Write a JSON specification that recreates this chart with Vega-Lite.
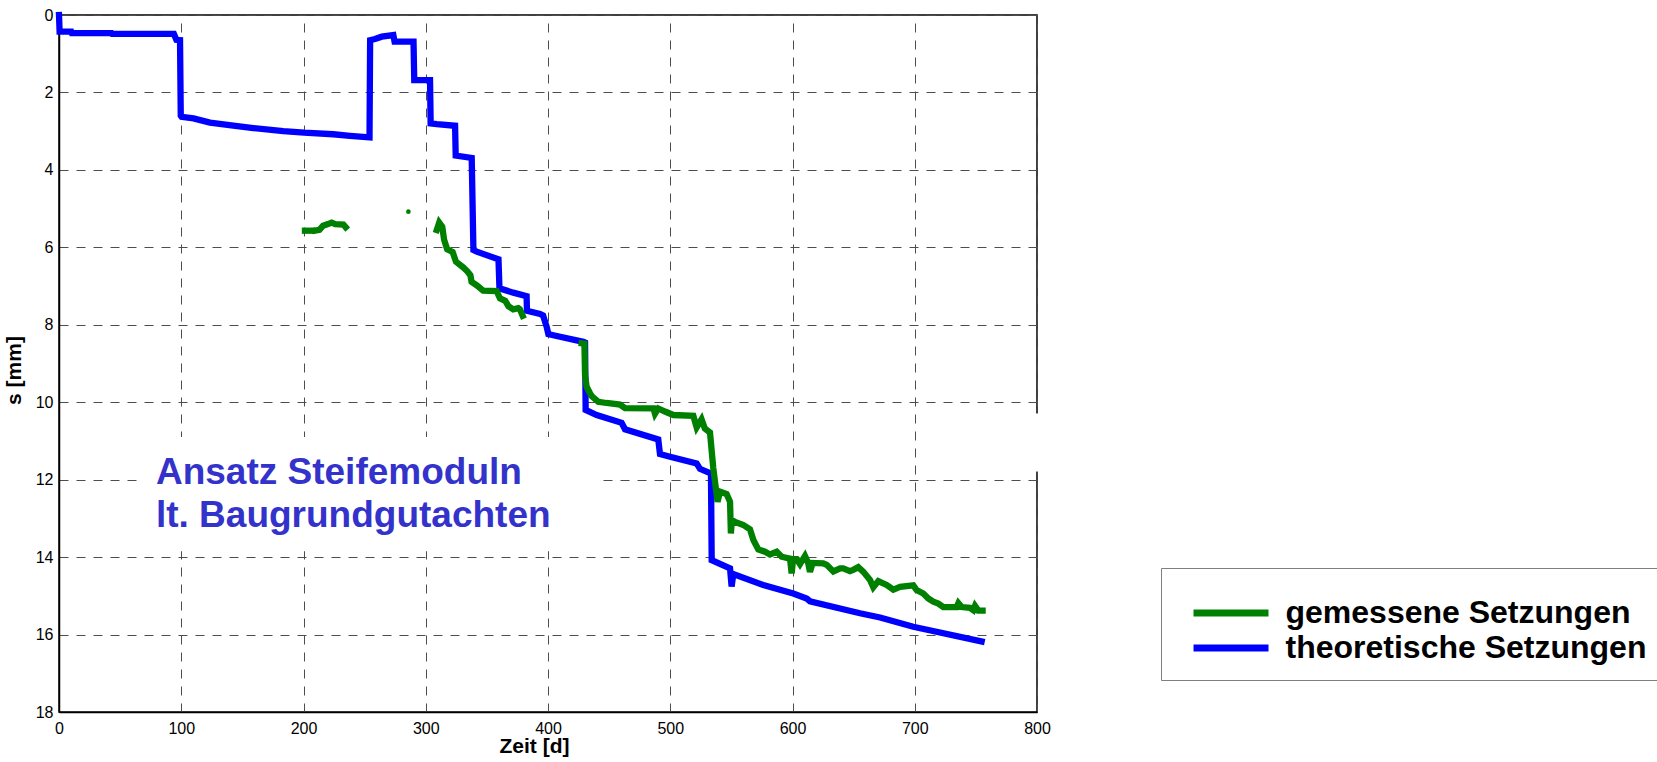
{
  "$schema": "https://vega.github.io/schema/vega-lite/v6.json",
  "autosize": {"type": "none"},
  "padding": {"left": 59, "top": 15, "right": 620, "bottom": 50},
  "width": 978,
  "height": 697,
  "background": "white",
  "config": {
    "font": "Liberation Sans",
    "view": {"stroke": "black", "strokeWidth": 1.5},
    "axis": {
      "labelFont": "Liberation Sans",
      "labelFontSize": 16,
      "labelColor": "black",
      "labelFlush": false,
      "titleFont": "Liberation Sans",
      "titleFontSize": 21,
      "titleFontWeight": "bold",
      "titleColor": "black",
      "domainColor": "black",
      "domainWidth": 1.5,
      "ticks": false,
      "tickSize": 0,
      "grid": true,
      "gridColor": "#4d4d4d",
      "gridDash": [9, 8],
      "gridWidth": 1,
      "gridOpacity": 1
    }
  },
  "layer": [
    {
      "data": {
        "values": [
          {"Reihe": "theoretische Setzungen", "Abschnitt": "t1", "t": 0, "s": 0},
          {"Reihe": "theoretische Setzungen", "Abschnitt": "t1", "t": 0.5, "s": 0.43},
          {"Reihe": "theoretische Setzungen", "Abschnitt": "t1", "t": 10, "s": 0.43},
          {"Reihe": "theoretische Setzungen", "Abschnitt": "t1", "t": 10.5, "s": 0.47},
          {"Reihe": "theoretische Setzungen", "Abschnitt": "t1", "t": 43, "s": 0.47},
          {"Reihe": "theoretische Setzungen", "Abschnitt": "t1", "t": 43.5, "s": 0.49},
          {"Reihe": "theoretische Setzungen", "Abschnitt": "t1", "t": 94, "s": 0.49},
          {"Reihe": "theoretische Setzungen", "Abschnitt": "t1", "t": 96, "s": 0.64},
          {"Reihe": "theoretische Setzungen", "Abschnitt": "t1", "t": 99, "s": 0.65},
          {"Reihe": "theoretische Setzungen", "Abschnitt": "t1", "t": 99.6, "s": 2.6},
          {"Reihe": "theoretische Setzungen", "Abschnitt": "t1", "t": 100.3, "s": 2.63},
          {"Reihe": "theoretische Setzungen", "Abschnitt": "t1", "t": 110, "s": 2.67},
          {"Reihe": "theoretische Setzungen", "Abschnitt": "t1", "t": 123.5, "s": 2.78},
          {"Reihe": "theoretische Setzungen", "Abschnitt": "t1", "t": 142.6, "s": 2.86},
          {"Reihe": "theoretische Setzungen", "Abschnitt": "t1", "t": 159, "s": 2.92},
          {"Reihe": "theoretische Setzungen", "Abschnitt": "t1", "t": 183.5, "s": 3.0},
          {"Reihe": "theoretische Setzungen", "Abschnitt": "t1", "t": 200.4, "s": 3.04},
          {"Reihe": "theoretische Setzungen", "Abschnitt": "t1", "t": 224.4, "s": 3.08},
          {"Reihe": "theoretische Setzungen", "Abschnitt": "t1", "t": 238, "s": 3.12},
          {"Reihe": "theoretische Setzungen", "Abschnitt": "t1", "t": 254, "s": 3.16},
          {"Reihe": "theoretische Setzungen", "Abschnitt": "t1", "t": 254.5, "s": 0.65},
          {"Reihe": "theoretische Setzungen", "Abschnitt": "t1", "t": 258.5, "s": 0.62},
          {"Reihe": "theoretische Setzungen", "Abschnitt": "t1", "t": 264, "s": 0.56},
          {"Reihe": "theoretische Setzungen", "Abschnitt": "t1", "t": 273.5, "s": 0.52},
          {"Reihe": "theoretische Setzungen", "Abschnitt": "t1", "t": 274.5, "s": 0.69},
          {"Reihe": "theoretische Setzungen", "Abschnitt": "t1", "t": 290, "s": 0.69},
          {"Reihe": "theoretische Setzungen", "Abschnitt": "t1", "t": 290.6, "s": 1.68},
          {"Reihe": "theoretische Setzungen", "Abschnitt": "t1", "t": 303.5, "s": 1.68},
          {"Reihe": "theoretische Setzungen", "Abschnitt": "t1", "t": 304, "s": 2.8},
          {"Reihe": "theoretische Setzungen", "Abschnitt": "t1", "t": 309, "s": 2.82},
          {"Reihe": "theoretische Setzungen", "Abschnitt": "t1", "t": 324, "s": 2.86},
          {"Reihe": "theoretische Setzungen", "Abschnitt": "t1", "t": 324.5, "s": 3.63},
          {"Reihe": "theoretische Setzungen", "Abschnitt": "t1", "t": 337.6, "s": 3.69},
          {"Reihe": "theoretische Setzungen", "Abschnitt": "t1", "t": 339, "s": 6.07},
          {"Reihe": "theoretische Setzungen", "Abschnitt": "t1", "t": 341.7, "s": 6.11},
          {"Reihe": "theoretische Setzungen", "Abschnitt": "t1", "t": 359.5, "s": 6.31},
          {"Reihe": "theoretische Setzungen", "Abschnitt": "t1", "t": 360.3, "s": 7.06},
          {"Reihe": "theoretische Setzungen", "Abschnitt": "t1", "t": 371.6, "s": 7.17},
          {"Reihe": "theoretische Setzungen", "Abschnitt": "t1", "t": 382.5, "s": 7.26},
          {"Reihe": "theoretische Setzungen", "Abschnitt": "t1", "t": 382.8, "s": 7.64},
          {"Reihe": "theoretische Setzungen", "Abschnitt": "t1", "t": 393.5, "s": 7.72},
          {"Reihe": "theoretische Setzungen", "Abschnitt": "t1", "t": 396, "s": 7.76},
          {"Reihe": "theoretische Setzungen", "Abschnitt": "t1", "t": 398.9, "s": 8.05},
          {"Reihe": "theoretische Setzungen", "Abschnitt": "t1", "t": 400.3, "s": 8.24},
          {"Reihe": "theoretische Setzungen", "Abschnitt": "t1", "t": 404.3, "s": 8.27},
          {"Reihe": "theoretische Setzungen", "Abschnitt": "t1", "t": 428.9, "s": 8.44},
          {"Reihe": "theoretische Setzungen", "Abschnitt": "t1", "t": 430.3, "s": 8.46},
          {"Reihe": "theoretische Setzungen", "Abschnitt": "t1", "t": 430.8, "s": 10.2},
          {"Reihe": "theoretische Setzungen", "Abschnitt": "t1", "t": 439.8, "s": 10.33},
          {"Reihe": "theoretische Setzungen", "Abschnitt": "t1", "t": 460.2, "s": 10.53},
          {"Reihe": "theoretische Setzungen", "Abschnitt": "t1", "t": 463, "s": 10.7},
          {"Reihe": "theoretische Setzungen", "Abschnitt": "t1", "t": 490.2, "s": 10.96},
          {"Reihe": "theoretische Setzungen", "Abschnitt": "t1", "t": 491.6, "s": 11.34},
          {"Reihe": "theoretische Setzungen", "Abschnitt": "t1", "t": 499.8, "s": 11.41},
          {"Reihe": "theoretische Setzungen", "Abschnitt": "t1", "t": 521.6, "s": 11.58},
          {"Reihe": "theoretische Setzungen", "Abschnitt": "t1", "t": 524.3, "s": 11.72},
          {"Reihe": "theoretische Setzungen", "Abschnitt": "t1", "t": 531.1, "s": 11.81},
          {"Reihe": "theoretische Setzungen", "Abschnitt": "t1", "t": 533.3, "s": 11.84},
          {"Reihe": "theoretische Setzungen", "Abschnitt": "t1", "t": 533.9, "s": 14.08},
          {"Reihe": "theoretische Setzungen", "Abschnitt": "t1", "t": 548.9, "s": 14.29},
          {"Reihe": "theoretische Setzungen", "Abschnitt": "t1", "t": 550.2, "s": 14.76},
          {"Reihe": "theoretische Setzungen", "Abschnitt": "t1", "t": 551.6, "s": 14.44},
          {"Reihe": "theoretische Setzungen", "Abschnitt": "t1", "t": 576.1, "s": 14.72},
          {"Reihe": "theoretische Setzungen", "Abschnitt": "t1", "t": 600.6, "s": 14.94},
          {"Reihe": "theoretische Setzungen", "Abschnitt": "t1", "t": 611.6, "s": 15.07},
          {"Reihe": "theoretische Setzungen", "Abschnitt": "t1", "t": 614.3, "s": 15.14},
          {"Reihe": "theoretische Setzungen", "Abschnitt": "t1", "t": 655.2, "s": 15.45},
          {"Reihe": "theoretische Setzungen", "Abschnitt": "t1", "t": 671.6, "s": 15.56},
          {"Reihe": "theoretische Setzungen", "Abschnitt": "t1", "t": 698.8, "s": 15.8},
          {"Reihe": "theoretische Setzungen", "Abschnitt": "t1", "t": 754.7, "s": 16.18},

          {"Reihe": "gemessene Setzungen", "Abschnitt": "g1", "t": 201.2, "s": 5.57},
          {"Reihe": "gemessene Setzungen", "Abschnitt": "g1", "t": 207, "s": 5.57},
          {"Reihe": "gemessene Setzungen", "Abschnitt": "g2", "t": 209.5, "s": 5.57},
          {"Reihe": "gemessene Setzungen", "Abschnitt": "g2", "t": 213, "s": 5.55},
          {"Reihe": "gemessene Setzungen", "Abschnitt": "g2", "t": 216, "s": 5.44},
          {"Reihe": "gemessene Setzungen", "Abschnitt": "g2", "t": 220, "s": 5.4},
          {"Reihe": "gemessene Setzungen", "Abschnitt": "g2", "t": 223, "s": 5.36},
          {"Reihe": "gemessene Setzungen", "Abschnitt": "g2", "t": 226, "s": 5.4},
          {"Reihe": "gemessene Setzungen", "Abschnitt": "g2", "t": 232.6, "s": 5.41},
          {"Reihe": "gemessene Setzungen", "Abschnitt": "g2", "t": 234.5, "s": 5.48},

          {"Reihe": "gemessene Setzungen", "Abschnitt": "g3", "t": 309, "s": 5.55},
          {"Reihe": "gemessene Setzungen", "Abschnitt": "g3", "t": 311, "s": 5.36},
          {"Reihe": "gemessene Setzungen", "Abschnitt": "g3", "t": 313.5, "s": 5.47},
          {"Reihe": "gemessene Setzungen", "Abschnitt": "g3", "t": 315, "s": 5.8},
          {"Reihe": "gemessene Setzungen", "Abschnitt": "g3", "t": 317.5, "s": 6.05},
          {"Reihe": "gemessene Setzungen", "Abschnitt": "g3", "t": 322, "s": 6.12},
          {"Reihe": "gemessene Setzungen", "Abschnitt": "g3", "t": 324.7, "s": 6.37},
          {"Reihe": "gemessene Setzungen", "Abschnitt": "g3", "t": 330.7, "s": 6.52},
          {"Reihe": "gemessene Setzungen", "Abschnitt": "g3", "t": 334, "s": 6.62},
          {"Reihe": "gemessene Setzungen", "Abschnitt": "g3", "t": 336.5, "s": 6.72},
          {"Reihe": "gemessene Setzungen", "Abschnitt": "g3", "t": 337.5, "s": 6.89},
          {"Reihe": "gemessene Setzungen", "Abschnitt": "g3", "t": 341.7, "s": 6.98},
          {"Reihe": "gemessene Setzungen", "Abschnitt": "g3", "t": 347, "s": 7.12},
          {"Reihe": "gemessene Setzungen", "Abschnitt": "g3", "t": 358, "s": 7.13},
          {"Reihe": "gemessene Setzungen", "Abschnitt": "g3", "t": 360.7, "s": 7.32},
          {"Reihe": "gemessene Setzungen", "Abschnitt": "g3", "t": 365, "s": 7.38},
          {"Reihe": "gemessene Setzungen", "Abschnitt": "g3", "t": 367.6, "s": 7.52},
          {"Reihe": "gemessene Setzungen", "Abschnitt": "g3", "t": 371.6, "s": 7.6},
          {"Reihe": "gemessene Setzungen", "Abschnitt": "g3", "t": 375.7, "s": 7.57},
          {"Reihe": "gemessene Setzungen", "Abschnitt": "g3", "t": 377, "s": 7.6},
          {"Reihe": "gemessene Setzungen", "Abschnitt": "g3", "t": 379.3, "s": 7.77},

          {"Reihe": "gemessene Setzungen", "Abschnitt": "g4", "t": 427.6, "s": 8.48},
          {"Reihe": "gemessene Setzungen", "Abschnitt": "g4", "t": 429.8, "s": 8.49},
          {"Reihe": "gemessene Setzungen", "Abschnitt": "g4", "t": 430.3, "s": 9.3},
          {"Reihe": "gemessene Setzungen", "Abschnitt": "g4", "t": 431.6, "s": 9.6},
          {"Reihe": "gemessene Setzungen", "Abschnitt": "g4", "t": 434.4, "s": 9.77},
          {"Reihe": "gemessene Setzungen", "Abschnitt": "g4", "t": 436, "s": 9.85},
          {"Reihe": "gemessene Setzungen", "Abschnitt": "g4", "t": 439.8, "s": 9.95},
          {"Reihe": "gemessene Setzungen", "Abschnitt": "g4", "t": 441.1, "s": 9.99},
          {"Reihe": "gemessene Setzungen", "Abschnitt": "g4", "t": 447.9, "s": 10.02},
          {"Reihe": "gemessene Setzungen", "Abschnitt": "g4", "t": 458.9, "s": 10.06},
          {"Reihe": "gemessene Setzungen", "Abschnitt": "g4", "t": 463, "s": 10.15},
          {"Reihe": "gemessene Setzungen", "Abschnitt": "g4", "t": 486.2, "s": 10.16},
          {"Reihe": "gemessene Setzungen", "Abschnitt": "g4", "t": 487.5, "s": 10.3},
          {"Reihe": "gemessene Setzungen", "Abschnitt": "g4", "t": 490.2, "s": 10.16},
          {"Reihe": "gemessene Setzungen", "Abschnitt": "g4", "t": 495.7, "s": 10.24},
          {"Reihe": "gemessene Setzungen", "Abschnitt": "g4", "t": 502.5, "s": 10.33},
          {"Reihe": "gemessene Setzungen", "Abschnitt": "g4", "t": 518.9, "s": 10.35},
          {"Reihe": "gemessene Setzungen", "Abschnitt": "g4", "t": 521.6, "s": 10.65},
          {"Reihe": "gemessene Setzungen", "Abschnitt": "g4", "t": 525.6, "s": 10.44},
          {"Reihe": "gemessene Setzungen", "Abschnitt": "g4", "t": 528.3, "s": 10.68},
          {"Reihe": "gemessene Setzungen", "Abschnitt": "g4", "t": 532.5, "s": 10.78},
          {"Reihe": "gemessene Setzungen", "Abschnitt": "g4", "t": 535.2, "s": 11.7},
          {"Reihe": "gemessene Setzungen", "Abschnitt": "g4", "t": 536.6, "s": 12.05},
          {"Reihe": "gemessene Setzungen", "Abschnitt": "g4", "t": 538.7, "s": 12.57},
          {"Reihe": "gemessene Setzungen", "Abschnitt": "g4", "t": 540.7, "s": 12.31},
          {"Reihe": "gemessene Setzungen", "Abschnitt": "g4", "t": 546.1, "s": 12.37},
          {"Reihe": "gemessene Setzungen", "Abschnitt": "g4", "t": 548.9, "s": 12.57},
          {"Reihe": "gemessene Setzungen", "Abschnitt": "g4", "t": 549.6, "s": 13.39},
          {"Reihe": "gemessene Setzungen", "Abschnitt": "g4", "t": 550.4, "s": 13.04},
          {"Reihe": "gemessene Setzungen", "Abschnitt": "g4", "t": 553, "s": 13.09},
          {"Reihe": "gemessene Setzungen", "Abschnitt": "g4", "t": 559.8, "s": 13.17},
          {"Reihe": "gemessene Setzungen", "Abschnitt": "g4", "t": 565.2, "s": 13.28},
          {"Reihe": "gemessene Setzungen", "Abschnitt": "g4", "t": 568, "s": 13.56},
          {"Reihe": "gemessene Setzungen", "Abschnitt": "g4", "t": 572, "s": 13.8},
          {"Reihe": "gemessene Setzungen", "Abschnitt": "g4", "t": 577.5, "s": 13.86},
          {"Reihe": "gemessene Setzungen", "Abschnitt": "g4", "t": 581.6, "s": 13.93},
          {"Reihe": "gemessene Setzungen", "Abschnitt": "g4", "t": 587.1, "s": 13.86},
          {"Reihe": "gemessene Setzungen", "Abschnitt": "g4", "t": 591.1, "s": 13.99},
          {"Reihe": "gemessene Setzungen", "Abschnitt": "g4", "t": 598, "s": 14.04},
          {"Reihe": "gemessene Setzungen", "Abschnitt": "g4", "t": 599.3, "s": 14.42},
          {"Reihe": "gemessene Setzungen", "Abschnitt": "g4", "t": 600.5, "s": 14.05},
          {"Reihe": "gemessene Setzungen", "Abschnitt": "g4", "t": 603.4, "s": 14.05},
          {"Reihe": "gemessene Setzungen", "Abschnitt": "g4", "t": 606.1, "s": 14.18},
          {"Reihe": "gemessene Setzungen", "Abschnitt": "g4", "t": 610.2, "s": 13.97},
          {"Reihe": "gemessene Setzungen", "Abschnitt": "g4", "t": 612.9, "s": 14.16},
          {"Reihe": "gemessene Setzungen", "Abschnitt": "g4", "t": 614.3, "s": 14.38},
          {"Reihe": "gemessene Setzungen", "Abschnitt": "g4", "t": 616.5, "s": 14.15},
          {"Reihe": "gemessene Setzungen", "Abschnitt": "g4", "t": 625.2, "s": 14.16},
          {"Reihe": "gemessene Setzungen", "Abschnitt": "g4", "t": 628, "s": 14.2},
          {"Reihe": "gemessene Setzungen", "Abschnitt": "g4", "t": 633.4, "s": 14.37},
          {"Reihe": "gemessene Setzungen", "Abschnitt": "g4", "t": 639, "s": 14.29},
          {"Reihe": "gemessene Setzungen", "Abschnitt": "g4", "t": 641.5, "s": 14.29},
          {"Reihe": "gemessene Setzungen", "Abschnitt": "g4", "t": 647, "s": 14.36},
          {"Reihe": "gemessene Setzungen", "Abschnitt": "g4", "t": 649.7, "s": 14.33},
          {"Reihe": "gemessene Setzungen", "Abschnitt": "g4", "t": 653.8, "s": 14.26},
          {"Reihe": "gemessene Setzungen", "Abschnitt": "g4", "t": 658, "s": 14.38},
          {"Reihe": "gemessene Setzungen", "Abschnitt": "g4", "t": 663.4, "s": 14.59},
          {"Reihe": "gemessene Setzungen", "Abschnitt": "g4", "t": 666.1, "s": 14.78},
          {"Reihe": "gemessene Setzungen", "Abschnitt": "g4", "t": 670.2, "s": 14.62},
          {"Reihe": "gemessene Setzungen", "Abschnitt": "g4", "t": 677, "s": 14.72},
          {"Reihe": "gemessene Setzungen", "Abschnitt": "g4", "t": 682.5, "s": 14.84},
          {"Reihe": "gemessene Setzungen", "Abschnitt": "g4", "t": 688, "s": 14.77},
          {"Reihe": "gemessene Setzungen", "Abschnitt": "g4", "t": 698.8, "s": 14.73},
          {"Reihe": "gemessene Setzungen", "Abschnitt": "g4", "t": 701.5, "s": 14.85},
          {"Reihe": "gemessene Setzungen", "Abschnitt": "g4", "t": 707, "s": 14.94},
          {"Reihe": "gemessene Setzungen", "Abschnitt": "g4", "t": 711.1, "s": 15.07},
          {"Reihe": "gemessene Setzungen", "Abschnitt": "g4", "t": 715.2, "s": 15.15},
          {"Reihe": "gemessene Setzungen", "Abschnitt": "g4", "t": 719.3, "s": 15.2},
          {"Reihe": "gemessene Setzungen", "Abschnitt": "g4", "t": 723.4, "s": 15.29},
          {"Reihe": "gemessene Setzungen", "Abschnitt": "g4", "t": 734.3, "s": 15.29},
          {"Reihe": "gemessene Setzungen", "Abschnitt": "g4", "t": 735.7, "s": 15.19},
          {"Reihe": "gemessene Setzungen", "Abschnitt": "g4", "t": 738.4, "s": 15.29},
          {"Reihe": "gemessene Setzungen", "Abschnitt": "g4", "t": 745.2, "s": 15.31},
          {"Reihe": "gemessene Setzungen", "Abschnitt": "g4", "t": 747.9, "s": 15.37},
          {"Reihe": "gemessene Setzungen", "Abschnitt": "g4", "t": 749.3, "s": 15.26},
          {"Reihe": "gemessene Setzungen", "Abschnitt": "g4", "t": 752, "s": 15.38},
          {"Reihe": "gemessene Setzungen", "Abschnitt": "g4", "t": 755.5, "s": 15.38}
        ]
      },
      "mark": {"type": "line", "strokeWidth": 6.3, "strokeJoin": "miter", "strokeCap": "square"},
      "encoding": {
        "x": {
          "field": "t", "type": "quantitative", "title": "Zeit [d]",
          "scale": {"domain": [0, 800], "nice": false, "zero": false},
          "axis": {"values": [0, 100, 200, 300, 400, 500, 600, 700, 800], "labelPadding": 8, "titlePadding": -1, "titleX": 475, "titleAlign": "center"}
        },
        "y": {
          "field": "s", "type": "quantitative", "title": "s [mm]",
          "scale": {"domain": [0, 18], "reverse": true, "nice": false, "zero": false},
          "axis": {"values": [0, 2, 4, 6, 8, 10, 12, 14, 16, 18], "labelPadding": 6, "titlePadding": 11, "titleY": 355}
        },
        "color": {
          "field": "Reihe", "type": "nominal",
          "scale": {"domain": ["gemessene Setzungen", "theoretische Setzungen"], "range": ["#008000", "#0000ff"]},
          "legend": {
            "title": " ",
            "titleFontSize": 10,
            "titlePadding": 3,
            "orient": "none",
            "legendX": 1102,
            "legendY": 553,
            "padding": 14.5,
            "strokeColor": "#7f7f7f",
            "fillColor": "white",
            "symbolType": "stroke",
            "symbolSize": 5625,
            "symbolStrokeWidth": 7,
            "symbolOffset": 14.5,
            "clipHeight": 35,
            "rowPadding": 0,
            "labelOffset": 13.5,
            "labelFont": "Liberation Sans",
            "labelFontSize": 32,
            "labelFontWeight": "bold",
            "labelColor": "black",
            "labelLimit": 1000,
            "labelBaseline": "alphabetic",
            "encode": {"labels": {"update": {"dy": {"value": 10}}}}
          }
        },
        "detail": {"field": "Abschnitt"},
        "order": {"value": null}
      }
    },
    {
      "data": {"values": [{"t": 285.8, "s": 5.08}]},
      "mark": {"type": "circle", "size": 22, "color": "#008000", "opacity": 1},
      "encoding": {
        "x": {"field": "t", "type": "quantitative", "title": "Zeit [d]"},
        "y": {"field": "s", "type": "quantitative", "title": "s [mm]"}
      }
    },
    {
      "data": {"values": [{}]},
      "mark": {"type": "rect", "fill": "white", "stroke": null},
      "encoding": {
        "x": {"datum": 63.8, "type": "quantitative", "title": "Zeit [d]"},
        "x2": {"datum": 443.5},
        "y": {"datum": 10.9, "type": "quantitative", "title": "s [mm]"},
        "y2": {"datum": 13.85}
      }
    },
    {
      "data": {"values": [{}]},
      "mark": {"type": "rect", "fill": "white", "stroke": null},
      "encoding": {
        "x": {"datum": 797, "type": "quantitative", "title": "Zeit [d]"},
        "x2": {"datum": 804},
        "y": {"datum": 10.29, "type": "quantitative", "title": "s [mm]"},
        "y2": {"datum": 11.79}
      }
    },
    {
      "data": {"values": [{}]},
      "mark": {
        "type": "text",
        "text": ["Ansatz Steifemoduln", "lt. Baugrundgutachten"],
        "align": "left",
        "baseline": "alphabetic",
        "lineHeight": 43,
        "font": "Liberation Sans",
        "fontSize": 37,
        "fontWeight": "bold",
        "color": "#3333cc"
      },
      "encoding": {
        "x": {"datum": 79.3, "type": "quantitative", "title": "Zeit [d]"},
        "y": {"datum": 12.11, "type": "quantitative", "title": "s [mm]"}
      }
    }
  ]
}
